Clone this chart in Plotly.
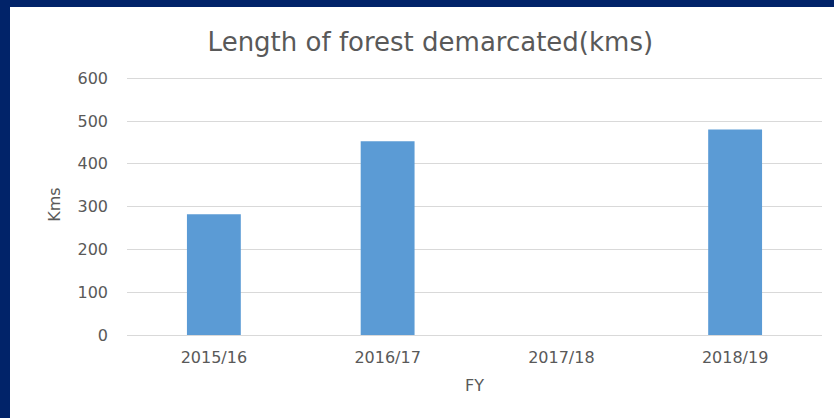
import plotly.graph_objects as go

# dados
anos = ["2015/16", "2016/17", "2017/18", "2018/19"]
km_demarcados = [282, 453, 0, 480]

cor_barra = "#5B9BD5"
cor_texto = "#595959"
cor_borda = "#012369"

fig = go.Figure(go.Bar(
    x=anos,
    y=km_demarcados,
    marker_color=cor_barra,
    marker_line_width=0,
    width=0.31,
))

# largura / altura da area do grafico em px, pra converter a borda azul
L, R, T, B = 127, 12, 74, 83
W, H = 834 - L - R, 418 - T - B

fig.update_layout(
    width=834, height=418,
    margin=dict(l=L, r=R, t=T, b=B),
    paper_bgcolor="white",
    plot_bgcolor="white",
    font=dict(family="DejaVu Sans, sans-serif", color=cor_texto, size=15),
    title=dict(text="Length of forest demarcated(kms)", x=0.516, xanchor="center",
               y=1 - 42 / 418, yanchor="middle", font=dict(size=26, color=cor_texto)),
    showlegend=False,
    shapes=[
        # borda azul em cima e na esquerda
        dict(type="rect", xref="paper", yref="paper", layer="above",
             x0=-L / W, x1=(834 - L) / W + 0.01, y0=1 + (T - 7) / H, y1=1 + (T + 2) / H,
             fillcolor=cor_borda, line_width=0),
        dict(type="rect", xref="paper", yref="paper", layer="above",
             x0=-L / W - 0.01, x1=(10 - L) / W, y0=-B / H - 0.01, y1=1 + (T + 2) / H,
             fillcolor=cor_borda, line_width=0),
    ],
)

fig.update_xaxes(
    title=dict(text="FY", font=dict(size=16, color=cor_texto), standoff=13),
    tickfont=dict(size=16, color=cor_texto),
    showline=True, linecolor="#d9d9d9", linewidth=1,
    ticks="", ticklabelstandoff=8,
)
fig.update_yaxes(
    title=dict(text="Kms", font=dict(size=16, color=cor_texto), standoff=12),
    range=[0, 610], tickvals=[0, 100, 200, 300, 400, 500, 600],
    tickfont=dict(size=16, color=cor_texto),
    gridcolor="#d9d9d9", gridwidth=1,
    zeroline=False, ticks="", ticklabelstandoff=18,
)

fig.write_html("out.html", config={"displayModeBar": False},
               post_script="document.body.style.margin='0';")
